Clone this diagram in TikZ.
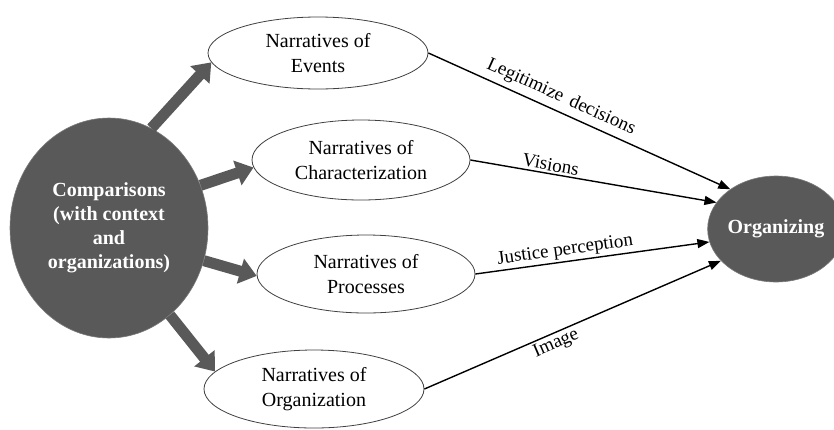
\documentclass[tikz,border=0pt]{standalone}
\usepackage{fontspec}
\setmainfont{Liberation Serif}
\usetikzlibrary{shapes.geometric,arrows.meta}
\definecolor{darkfill}{HTML}{595959}
\begin{document}
\begin{tikzpicture}[x=1pt,y=-1pt,
  narr/.style={ellipse, draw=black!75, line width=0.8pt, fill=white, inner sep=0pt,
    align=center, font=\fontsize{20}{25}\selectfont},
  hub/.style={ellipse, fill=darkfill, draw=darkfill!80, line width=0.6pt, inner sep=0pt,
    align=center, text=white, font=\fontsize{20}{24}\selectfont\bfseries},
  bigarrow/.style={draw=darkfill, line width=11pt, -{Triangle[width=25pt,length=17pt,fill=darkfill]}},
  thinarrow/.style={draw=black, line width=1.4pt, -{Triangle[width=9pt,length=12pt]}},
  lbl/.style={font=\fontsize{19}{22}\selectfont, sloped, inner sep=2pt}]
\useasboundingbox[fill=white] (0,0) rectangle (834,429);

\node[hub, minimum width=198pt, minimum height=220pt] (cmp) at (109,228)
  {Comparisons\\(with context\\and\\organizations)};
\node[hub, minimum width=116pt, minimum height=106pt] (org) at (776,229) {Organizing};

\node[narr, minimum width=220pt, minimum height=72pt] (evt) at (318,53) {Narratives of\\Events};
\node[narr, minimum width=218pt, minimum height=80pt] (chr) at (361,160) {Narratives of\\Characterization};
\node[narr, minimum width=218pt, minimum height=78pt] (prc) at (366,274) {Narratives of\\Processes};
\node[narr, minimum width=220pt, minimum height=78pt] (orgn) at (314,389) {Narratives of\\Organization};

\draw[bigarrow] (cmp.67) -- (evt.185);
\draw[bigarrow] (cmp.25) -- (chr.184);
\draw[bigarrow] (cmp.341) -- (prc.181);
\draw[bigarrow] (cmp.305) -- (orgn.170);

\draw[thinarrow] (evt.east) -- node[lbl, pos=0.42, above=3pt] {Legitimize\, decisions} (org.139);
\draw[thinarrow] (chr.east) -- node[lbl, pos=0.32, above] {Visions} (org.156);
\draw[thinarrow] (prc.east) -- node[lbl, pos=0.39, above] {Justice perception} (org.191);
\draw[thinarrow] (orgn.east) -- node[lbl, pos=0.43, below] {Image} (org.210);
\end{tikzpicture}
\end{document}
